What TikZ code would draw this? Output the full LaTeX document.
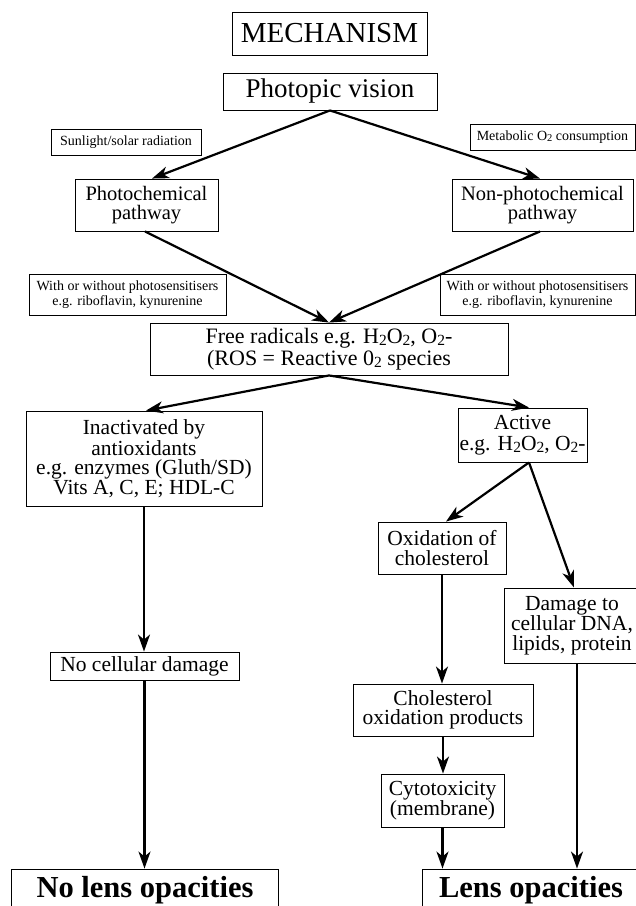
\documentclass[tikz,border=0pt]{standalone}
\usepackage{fontspec}
\setmainfont{Liberation Serif}
\usetikzlibrary{arrows.meta}
\newcommand\sbA[1]{\raisebox{-0.2ex}{\fontsize{15.5}{15.5}\selectfont #1}}
\newcommand\sbB[1]{\raisebox{-0.25ex}{\fontsize{10.5}{10.5}\selectfont #1}}
\begin{document}
\begin{tikzpicture}[x=1pt,y=-1pt,
  bx/.style={draw, line width=0.9pt, inner sep=0pt, align=center, font=\fontsize{21.5}{19.5}\selectfont},
  lbl/.style={bx, font=\fontsize{14}{15}\selectfont},
  big/.style={bx, font=\fontsize{30.5}{30.5}\selectfont\bfseries},
  arr/.style={line width=2.2pt, -{Stealth[length=17pt,width=12pt,inset=5pt]}}
]
\path[use as bounding box] (0,0) rectangle (636,906);
\clip (0,0) rectangle (636,906);
\node[bx, font=\fontsize{29}{29}\selectfont, minimum width=195pt, minimum height=43pt] (mech) at (329.5,33.5) {MECHANISM};
\node[bx, font=\fontsize{27}{27}\selectfont, minimum width=214pt, minimum height=37pt] (photopic) at (330,91.5) {Photopic vision};
\node[lbl, minimum width=150pt, minimum height=26pt] (sun) at (126,142) {Sunlight/solar radiation};
\node[lbl, minimum width=165pt, minimum height=26pt] (metab) at (552.5,137) {Metabolic O\sbB{2} consumption};
\node[bx, font=\fontsize{20.5}{19.5}\selectfont, minimum width=143pt, minimum height=52pt] (photochem) at (146.5,205) {Photochemical\\pathway};
\node[bx, font=\fontsize{20.5}{19.5}\selectfont, minimum width=181pt, minimum height=52pt] (nonphoto) at (542.5,205) {Non-photochemical\\pathway};
\node[lbl, minimum width=197pt, minimum height=41pt] (lab1) at (127.5,294.5) {With or without photosensitisers\\e.g. riboflavin, kynurenine};
\node[lbl, minimum width=195pt, minimum height=41pt] (lab2) at (537.5,294.5) {With or without photosensitisers\\e.g. riboflavin, kynurenine};
\node[bx, font=\fontsize{22}{22}\selectfont, minimum width=358pt, minimum height=52pt] (free) at (329,349) {Free radicals e.g. H\sbA{2}O\sbA{2}, O\sbA{2}-\\(ROS = Reactive 0\sbA{2} species};
\node[bx, minimum width=236pt, minimum height=95pt] (inact) at (144,458.5) {Inactivated by\\antioxidants\\e.g. enzymes (Gluth/SD)\\Vits A, C, E; HDL-C};
\node[bx, font=\fontsize{21.5}{21.5}\selectfont, minimum width=129pt, minimum height=54pt] (active) at (522.5,435) {Active\\e.g. H\sbA{2}O\sbA{2}, O\sbA{2}-};
\node[bx, minimum width=128pt, minimum height=52pt] (oxid) at (442,548) {Oxidation of\\cholesterol};
\node[bx, minimum width=136pt, minimum height=75pt] (damage) at (572,625.5) {Damage to\\cellular DNA,\\lipids, protein};
\node[bx, minimum width=189pt, minimum height=28pt] (nocell) at (144.5,666) {No cellular damage};
\node[bx, minimum width=180pt, minimum height=52pt] (chol) at (443,710) {Cholesterol\\oxidation products};
\node[bx, minimum width=123pt, minimum height=53pt] (cyto) at (442.5,800.5) {Cytotoxicity\\(membrane)};
\node[big, minimum width=267pt, minimum height=42pt] (nolens) at (145,890) {No lens opacities};
\node[big, minimum width=218pt, minimum height=42pt] (lens) at (531,890) {Lens opacities};

\draw[arr] (photopic.south) -- ([xshift=5.5pt]photochem.north);
\draw[arr] (photopic.south) -- ([xshift=-2.5pt]nonphoto.north);
\draw[arr] ([xshift=-1.5pt]photochem.south) -- (free.north);
\draw[arr] ([xshift=-2.5pt]nonphoto.south) -- (free.north);
\draw[arr] (free.south) -- ([xshift=2pt]inact.north);
\draw[arr] (free.south) -- ([xshift=6.5pt]active.north);
\draw[arr] ([xshift=6.5pt]active.south) -- ([xshift=4pt]oxid.north);
\draw[arr] ([xshift=6.5pt]active.south) -- ([xshift=2pt]damage.north);
\draw[arr] (inact.south) -- (inact.south |- nocell.north);
\draw[arr] (nocell.south) -- (nocell.south |- nolens.north);
\draw[arr] (oxid.south) -- (oxid.south |- chol.north);
\draw[arr] (chol.south) -- (chol.south |- cyto.north);
\draw[arr] (cyto.south) -- (cyto.south |- lens.north);
\draw[arr] ([xshift=5pt]damage.south) -- ([xshift=5pt]damage.south |- lens.north);
\end{tikzpicture}
\end{document}
